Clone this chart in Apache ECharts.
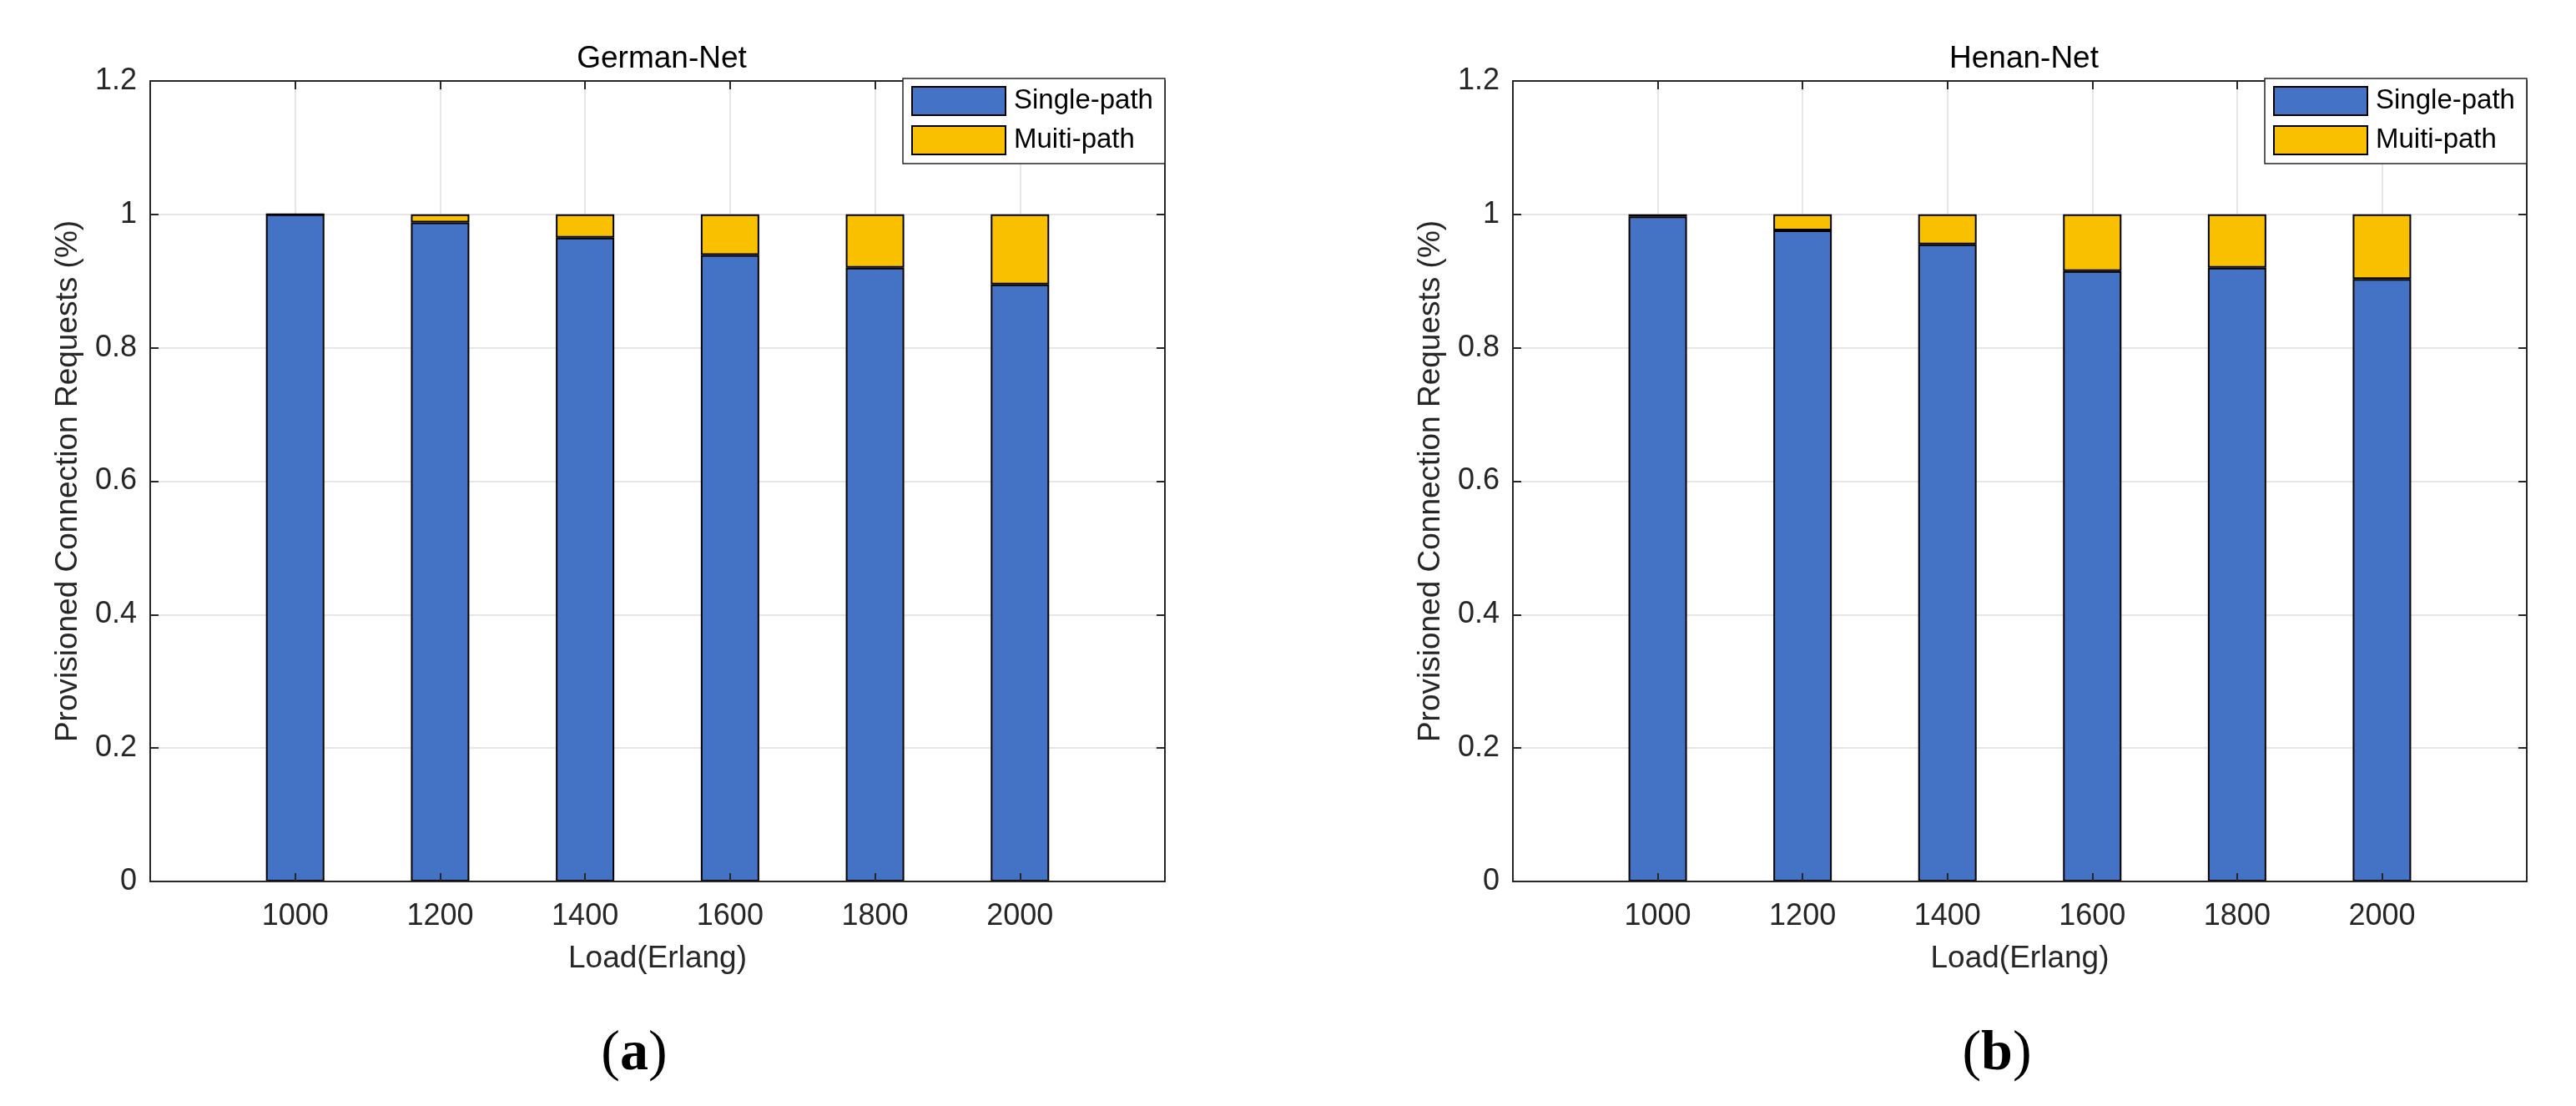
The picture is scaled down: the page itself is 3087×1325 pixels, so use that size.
<!DOCTYPE html>
<html>
<head>
<meta charset="utf-8">
<script src="https://cdn.jsdelivr.net/npm/echarts@6/dist/echarts.min.js"></script>
<style>
html,body{margin:0;padding:0;background:#fff;}
#chart{width:3087px;height:1325px;}
</style>
</head>
<body>
<div id="chart"></div>
<script>
// ---- data ----
const loads = ['1000', '1200', '1400', '1600', '1800', '2000'];
const yTicks = [0, 0.2, 0.4, 0.6, 0.8, 1, 1.2];
const seriesNames = ['Single-path', 'Muiti-path'];
const panelTitles = ['German-Net', 'Henan-Net'];
const panelTags = ['a', 'b'];
const germanSingle = [1.000, 0.988, 0.965, 0.939, 0.920, 0.895];
const germanMulti  = [0.000, 0.012, 0.035, 0.061, 0.080, 0.105];
const henanSingle  = [0.997, 0.976, 0.955, 0.915, 0.920, 0.903];
const henanMulti   = [0.003, 0.024, 0.045, 0.085, 0.080, 0.097];
const xAxisName = 'Load(Erlang)';
const yAxisName = 'Provisioned Connection Requests (%)';

// ---- styling ----
const FONT = '"Liberation Sans", Arial, Helvetica, sans-serif';
const AX = '#262626';
const BLUE = '#4472C4';
const YELLOW = '#F9C000';
const grids = [
  {left: 180, top: 97, width: 1216, height: 959},
  {left: 1813, top: 97, width: 1215, height: 959}
];
// padded category list: empty slot at each end (xlim 800..2200)
const cats = [''].concat(loads, ['']);
const pad = arr => ['-'].concat(arr, ['-']);

const xAxes = [], yAxes = [], series = [], legends = [], titles = [];
const panelData = [[germanSingle, germanMulti], [henanSingle, henanMulti]];
const tickStyle = {show: true, inside: true, length: 10, lineStyle: {color: AX, width: 2}};
const lineStyle = {show: true, onZero: false, lineStyle: {color: AX, width: 2}};

grids.forEach((g, i) => {
  // main bottom axis: labels, name, grid lines (below bars)
  xAxes.push({
    type: 'category', gridIndex: i, data: cats, boundaryGap: false, position: 'bottom', z: 0,
    axisLine: lineStyle,
    axisTick: {show: false},
    axisLabel: {interval: 0, margin: 24, color: AX, fontSize: 36, fontFamily: FONT},
    splitLine: {show: true, lineStyle: {color: '#DEDEDE', width: 1.5}},
    name: xAxisName, nameLocation: 'middle', nameGap: 74,
    nameTextStyle: {color: AX, fontSize: 37, fontFamily: FONT}
  });
  // top box edge with inward ticks
  xAxes.push({
    type: 'category', gridIndex: i, data: cats, boundaryGap: false, position: 'top', z: 10,
    axisLine: lineStyle, axisTick: tickStyle,
    axisLabel: {show: false}, splitLine: {show: false}
  });
  // bottom inward ticks drawn over the bars
  xAxes.push({
    type: 'category', gridIndex: i, data: cats, boundaryGap: false, position: 'bottom', z: 10,
    axisLine: lineStyle, axisTick: tickStyle,
    axisLabel: {show: false}, splitLine: {show: false}
  });
  yAxes.push({
    type: 'value', gridIndex: i, min: yTicks[0], max: yTicks[yTicks.length - 1],
    interval: yTicks[1] - yTicks[0], position: 'left',
    axisLine: lineStyle, axisTick: tickStyle,
    axisLabel: {margin: 16, color: AX, fontSize: 36, fontFamily: FONT},
    splitLine: {show: true, lineStyle: {color: '#DEDEDE', width: 1.5}},
    name: yAxisName, nameLocation: 'middle', nameGap: 80,
    nameTextStyle: {color: AX, fontSize: 37, fontFamily: FONT}
  });
  yAxes.push({
    type: 'value', gridIndex: i, min: yTicks[0], max: yTicks[yTicks.length - 1],
    interval: yTicks[1] - yTicks[0], position: 'right',
    axisLine: lineStyle, axisTick: tickStyle,
    axisLabel: {show: false}, splitLine: {show: false}
  });
  const colors = [BLUE, YELLOW];
  seriesNames.forEach((nm, k) => {
    series.push({
      name: nm, type: 'bar', stack: 'panel' + i,
      xAxisIndex: i * 3, yAxisIndex: i * 2,
      barWidth: 70,
      data: pad(panelData[i][k]),
      itemStyle: {color: colors[k], borderColor: '#000', borderWidth: 2},
      emphasis: {disabled: true},
      animation: false
    });
  });
  legends.push({
    data: seriesNames, orient: 'vertical', z: 20,
    left: g.left + g.width - 314, top: 94,
    padding: [9, 14, 10, 10],
    itemWidth: 112, itemHeight: 34, itemGap: 11,
    backgroundColor: '#fff', borderColor: AX, borderWidth: 1.5, borderRadius: 0,
    icon: 'rect',
    textStyle: {color: '#000', fontSize: 33, fontFamily: FONT, padding: [0, 0, 0, 5]},
    selectedMode: false
  });
  titles.push({
    text: panelTitles[i], left: g.left + g.width / 2, top: 47,
    textAlign: 'center',
    textStyle: {color: '#000', fontSize: 37, fontWeight: 'normal', fontFamily: FONT}
  });
});

const tagX = [760, 2393];
const graphic = panelTags.map((t, i) => ({
  type: 'text', x: tagX[i], y: 1263,
  style: {
    text: '{p|(}{b|' + t + '}{p|)}',
    align: 'center', verticalAlign: 'middle',
    rich: {
      p: {fontSize: 68, fontFamily: '"Liberation Serif", "DejaVu Serif", serif', fill: '#000'},
      b: {fontSize: 68, fontWeight: 'bold', fontFamily: '"Liberation Serif", "DejaVu Serif", serif', fill: '#000'}
    }
  }
}));

const chart = echarts.init(document.getElementById('chart'), null, {renderer: 'canvas'});
chart.setOption({
  animation: false,
  backgroundColor: '#fff',
  title: titles,
  legend: legends,
  grid: grids,
  xAxis: xAxes,
  yAxis: yAxes,
  series: series,
  graphic: graphic
});
</script>
</body>
</html>
